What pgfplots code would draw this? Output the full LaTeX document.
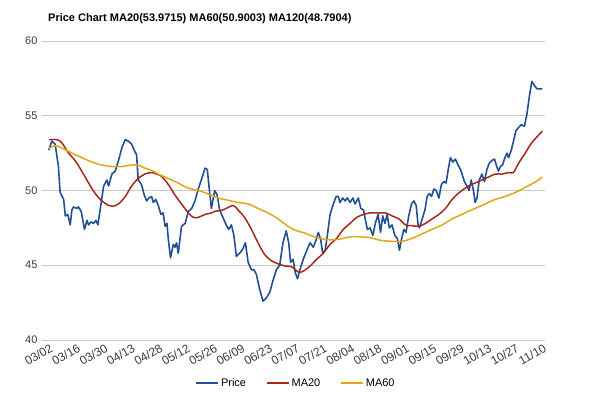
\documentclass[border=0pt]{standalone}
\usepackage{pgfplots}
\pgfplotsset{compat=1.18}
\usepackage{fontspec}
\setmainfont{Liberation Sans}

\definecolor{pricecol}{RGB}{33,80,150}
\definecolor{ma20col}{RGB}{165,40,25}
\definecolor{ma60col}{RGB}{222,168,20}
\definecolor{gridcol}{RGB}{200,200,200}
\definecolor{labcol}{RGB}{60,60,60}

\begin{document}
\begin{tikzpicture}
\begin{axis}[
    name=ax,
    at={(0,0)}, anchor=south west,
    width=503pt, height=299pt,
    scale only axis,
    xmin=-2.5, xmax=181,
    ymin=40, ymax=60,
    ytick={40,45,50,55,60},
    xtick={0,10,...,180},
    xticklabels={03/02,03/16,03/30,04/13,04/28,05/12,05/26,06/09,06/23,07/07,07/21,08/04,08/18,09/01,09/15,09/29,10/13,10/27,11/10},
    ymajorgrids=true,
    grid style={gridcol, line width=0.8pt},
    axis line style={draw=none},
    major tick style={draw=none},
    /pgf/number format/assume math mode=true,
    ticklabel style={font=\fontsize{11}{13}\selectfont, text=labcol},
    yticklabel style={xshift=-1pt},
    xticklabel style={rotate=30, anchor=north east, inner sep=1pt, yshift=-2pt, font=\fontsize{12}{14}\selectfont},
    legend style={at={(0.505,-0.144)}, anchor=center, draw=none, fill=none,
        legend columns=3, font=\fontsize{11}{13}\selectfont,
        /tikz/every even column/.append style={column sep=18pt}},
    legend image code/.code={\draw[#1] (0pt,0pt) -- (22pt,0pt);},
    line join=round,
]
\addplot[color=pricecol, line width=1.6pt] coordinates {
(0,52.7)(1.1,53.3)(2.3,53.1)(3.5,51.6)(4.1,49.9)(5.4,49.4)(6.0,48.3)(6.9,48.4)
(7.8,47.7)(8.4,48.7)(9.0,48.9)(10.2,48.8)(10.8,48.9)(11.8,48.6)(12.3,48.1)(13.0,47.4)
(13.9,48.0)(14.5,47.7)(15.4,47.9)(16.3,47.8)(17.2,48.0)(17.9,47.7)(18.7,48.7)(20.0,50.3)
(21.2,50.7)(21.8,50.3)(23.0,51.1)(24.2,51.3)(25.4,52.0)(26.7,52.9)(27.9,53.4)(29.0,53.3)
(30.2,53.1)(31.1,52.7)(32.0,52.4)(32.6,50.7)(33.8,50.4)(34.8,49.7)(35.7,49.3)(36.5,49.5)
(37.5,49.6)(38.1,49.2)(39.0,49.4)(39.9,49.0)(40.9,48.4)(41.7,48.5)(42.4,47.6)(43.1,47.8)
(43.6,46.7)(44.4,45.5)(45.4,46.4)(46.0,46.2)(46.6,46.5)(47.2,45.8)(48.4,47.6)(49.7,47.8)
(50.9,48.6)(52.1,48.8)(53.3,49.3)(54.5,50.1)(55.8,50.8)(57.0,51.5)(57.8,51.4)(58.7,49.8)
(59.3,48.8)(60.5,50.0)(61.4,49.7)(62.3,48.7)(63.5,48.2)(64.7,47.7)(65.6,47.4)(66.6,47.7)
(67.5,47.0)(68.4,45.6)(69.6,45.8)(70.8,46.1)(71.7,46.5)(72.7,45.2)(73.9,44.7)(74.8,44.7)
(75.7,44.4)(76.9,43.4)(78.1,42.6)(79.3,42.8)(80.6,43.2)(81.8,44.0)(83.0,44.7)(84.2,45.0)
(85.4,46.5)(86.6,47.3)(87.5,46.5)(88.2,45.2)(89.1,45.4)(89.9,44.5)(90.7,44.1)(91.6,44.7)
(92.8,45.4)(94.1,46.0)(95.3,46.5)(96.5,46.2)(97.5,46.7)(98.3,47.2)(99.2,46.7)(99.9,45.8)
(100.8,46.0)(101.6,47.0)(102.6,48.4)(103.6,49.0)(104.8,49.6)(105.6,49.6)(106.2,49.2)(107.2,49.5)
(108.1,49.3)(108.9,49.5)(109.9,49.2)(110.9,49.5)(111.7,49.1)(112.9,49.5)(113.8,48.8)(114.8,48.7)
(115.4,48.1)(116.2,47.4)(117.2,47.5)(118.2,47.0)(119.1,47.8)(120.1,48.4)(121.0,47.2)(121.8,48.3)
(122.6,47.8)(123.4,48.4)(124.2,47.5)(125.2,47.7)(126.2,47.0)(127.1,46.8)(127.9,46.0)(128.6,46.7)
(129.5,47.4)(130.3,47.2)(131.3,48.3)(132.3,49.1)(133.2,49.3)(134.0,49.0)(134.7,47.7)(135.2,47.5)
(136.2,48.1)(137.2,48.7)(138.0,49.6)(138.8,49.8)(139.6,49.6)(140.5,50.1)(141.3,50.0)(142.3,49.5)
(143.2,50.4)(144.1,50.6)(144.9,50.5)(145.7,51.4)(146.5,52.2)(147.4,51.9)(148.3,52.1)(149.3,51.7)
(150.2,51.4)(151.6,50.6)(152.5,50.3)(153.3,50.0)(154.1,50.7)(154.9,50.0)(155.5,49.2)(156.2,49.5)
(157.0,50.7)(158.0,51.1)(158.9,50.6)(159.8,51.4)(160.6,51.8)(161.6,52.0)(162.6,52.1)(163.4,51.6)
(164.0,51.3)(164.7,51.6)(165.5,51.7)(166.2,52.1)(167.1,52.5)(167.7,52.2)(168.7,52.7)(169.5,53.3)
(170.4,54.0)(171.3,54.2)(172.3,54.4)(173.5,54.3)(174.4,55.1)(175.3,56.3)(176.2,57.3)(177.2,57.0)
(178.1,56.8)(179.3,56.8)(180,56.8)
};
\addlegendentry{Price}
\addplot[color=ma20col, line width=1.5pt, smooth] coordinates {
(0,53.4)(2.9,53.4)(4.7,53.2)(7.2,52.5)(9.6,52.0)(12.0,51.3)(14.5,50.5)(16.9,49.8)
(19.4,49.3)(21.8,49.0)(23.3,48.95)(25.4,49.1)(27.9,49.6)(30.2,50.3)(32.6,50.8)(35.0,51.1)
(37.5,51.2)(39.3,51.1)(41.1,50.95)(43.6,50.4)(46.0,49.7)(48.4,49.1)(50.9,48.5)(52.7,48.2)
(54.5,48.2)(57.0,48.4)(59.4,48.5)(60.5,48.6)(63.5,48.7)(67.2,49.0)(69.0,48.7)(71.4,48.2)
(73.9,47.4)(76.3,46.5)(78.8,45.7)(81.2,45.3)(83.6,45.1)(86.1,44.95)(88.5,44.9)(91.0,44.55)
(92.8,44.6)(95.3,44.95)(97.7,45.4)(100.1,45.8)(102.6,46.4)(105.0,46.8)(107.4,47.4)(109.9,47.8)
(112.3,48.2)(114.8,48.4)(117.2,48.5)(120.3,48.5)(122.8,48.5)(125.2,48.3)(127.7,48.1)(130.1,47.7)
(132.5,47.65)(135.0,47.6)(137.4,47.8)(139.8,48.1)(142.3,48.4)(144.7,48.8)(147.1,49.4)(149.3,49.8)
(150.7,50.0)(153.1,50.3)(155.5,50.5)(158.0,50.7)(160.4,50.9)(162.8,51.1)(165.3,51.1)(167.7,51.2)
(169.5,51.2)(171.3,51.8)(173.8,52.5)(176.2,53.2)(180,53.97)
};
\addlegendentry{MA20}
\addplot[color=ma60col, line width=1.5pt, smooth] coordinates {
(0,52.8)(2.3,53.0)(4.7,52.85)(8.4,52.5)(12.0,52.2)(15.7,51.9)(19.4,51.7)(23.0,51.6)
(26.7,51.6)(29.7,51.7)(32.6,51.7)(35.0,51.5)(37.5,51.35)(39.9,51.1)(42.4,50.9)(44.8,50.7)
(47.2,50.5)(49.7,50.25)(52.1,50.1)(54.5,50.0)(57.0,49.85)(59.1,49.7)(61.7,49.5)(65.4,49.35)
(69.0,49.2)(72.7,49.1)(76.3,48.8)(80.0,48.5)(83.6,48.1)(87.3,47.6)(90.5,47.3)(93.5,47.15)
(95.3,47.0)(98.9,46.8)(102.6,46.7)(106.2,46.75)(109.9,46.9)(113.6,46.9)(117.2,46.85)(120.1,46.7)
(121.6,46.65)(125.2,46.6)(128.9,46.6)(132.5,46.8)(136.2,47.1)(139.8,47.4)(143.5,47.7)(147.1,48.1)
(150.7,48.4)(152.9,48.6)(155.5,48.8)(159.2,49.1)(162.8,49.4)(166.4,49.6)(170.0,49.85)(173.7,50.2)
(177.3,50.55)(180,50.9)
};
\addlegendentry{MA60}
\end{axis}
\node[anchor=base west, inner sep=0pt, font=\bfseries\fontsize{11}{13}\selectfont] at (6pt,318pt)
    {Price Chart MA20(53.9715) MA60(50.9003) MA120(48.7904)};
\pgfresetboundingbox
\path[use as bounding box] (-42pt,-61pt) rectangle (558pt,340pt);
\end{tikzpicture}
\end{document}
